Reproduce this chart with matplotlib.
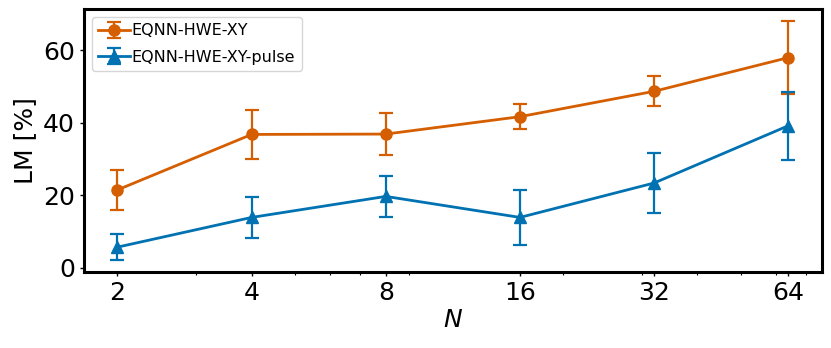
import numpy as np
import matplotlib
matplotlib.use("Agg")
import matplotlib.pyplot as plt
from matplotlib.ticker import NullFormatter

# Datos
n_qubits = [2, 4, 8, 16, 32, 64]
tick_labels = ["2", "4", "8", "16", "32", "64"]

lm_xy = [21.5, 36.8, 36.9, 41.7, 48.7, 58.0]
err_xy = [5.6, 6.8, 5.8, 3.5, 4.1, 10.1]

lm_pulse = [5.7, 13.9, 19.7, 13.9, 23.4, 39.2]
err_pulse = [3.6, 5.7, 5.6, 7.6, 8.4, 9.4]

orange = "#D55E00"
blue = "#0072B2"

fig, ax = plt.subplots(figsize=(8.31, 3.48), dpi=100)
fig.subplots_adjust(left=0.101, right=0.989, top=0.974, bottom=0.218)

ax.errorbar(n_qubits, lm_xy, yerr=err_xy, color=orange, marker="o",
            markersize=8, linewidth=2, capsize=5, capthick=1.6,
            elinewidth=1.6, label="EQNN-HWE-XY")
ax.errorbar(n_qubits, lm_pulse, yerr=err_pulse, color=blue, marker="^",
            markersize=8, linewidth=2, capsize=5, capthick=1.6,
            elinewidth=1.6, label="EQNN-HWE-XY-pulse")

ax.set_xscale("log")
ax.set_xticks(n_qubits)
ax.set_xticklabels(tick_labels)
ax.xaxis.set_minor_formatter(NullFormatter())
ax.set_yticks([0, 20, 40, 60])

ax.tick_params(axis="both", which="major", labelsize=18, length=3, width=1)
ax.tick_params(axis="x", which="minor", length=2, width=0.8)
for s in ax.spines.values():
    s.set_linewidth(2.2)

ax.set_xlabel("$N$", fontsize=18, labelpad=2)
ax.set_ylabel("LM [%]", fontsize=18)

ax.legend(loc="upper left", fontsize=11.5, borderaxespad=0.5,
          handletextpad=0.1, labelspacing=0.7)

fig.savefig("out.png", dpi=100)
